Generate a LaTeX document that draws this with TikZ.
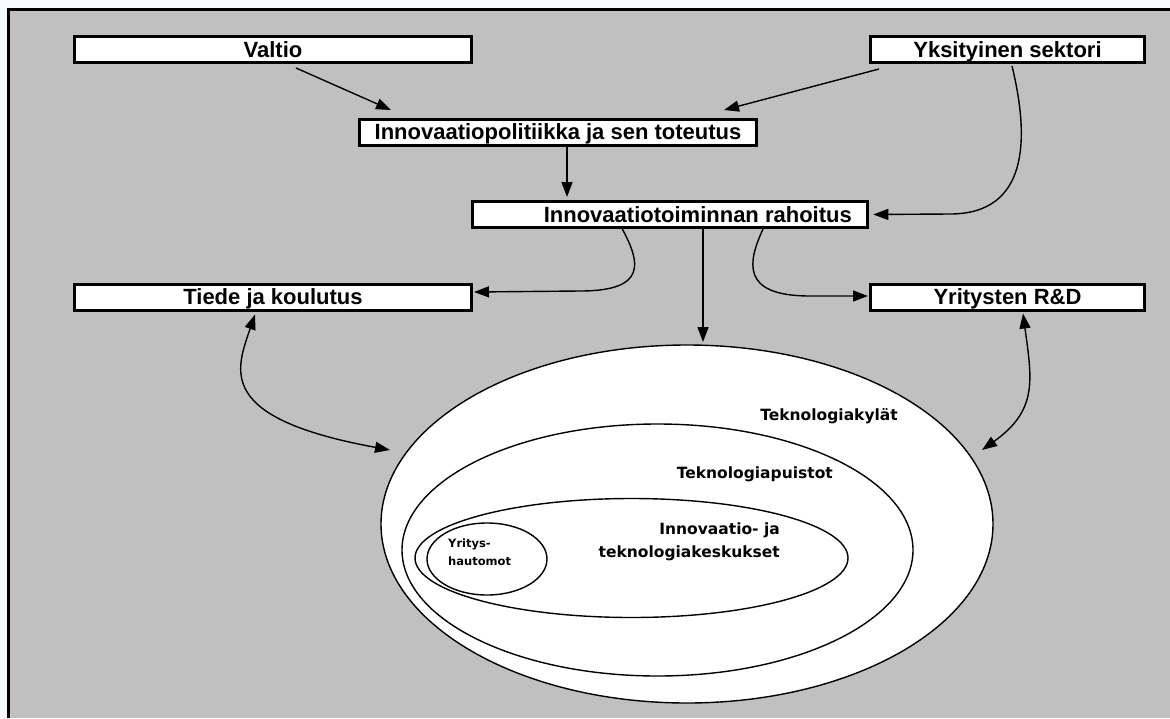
\documentclass[tikz,border=0pt]{standalone}
\usepackage{fontspec}
\setmainfont{Liberation Sans}
\newfontfamily\ellfont{DejaVu Sans}
\usetikzlibrary{arrows.meta,calc,shapes.geometric}
\definecolor{panel}{RGB}{192,192,192}
\definecolor{paper}{RGB}{246,250,254}

\begin{document}
\begin{tikzpicture}[x=1pt,y=-1pt,
  box/.style={draw,fill=white,line width=3pt,inner sep=0pt,minimum height=26pt,
    text height=15.8pt,text depth=0pt,
    font=\bfseries\fontsize{22}{26}\selectfont},
  ring/.style={draw,fill=white,ellipse,line width=1.4pt,inner sep=0pt,outer sep=0pt},
  ringtext/.style={inner sep=0pt,font=\ellfont\bfseries\fontsize{15.5}{22.5}\selectfont},
  link/.style={line width=1.4pt,-{Triangle[length=15pt,width=11pt]}},
  duplex/.style={line width=1.4pt,{Triangle[length=15pt,width=11pt]}-{Triangle[length=15pt,width=11pt]}}]

% page and grey panel with its frame
\useasboundingbox (0,0) rectangle (1170,718);
\fill[paper] (0,0) rectangle (1170,718);
\fill[panel] (8.5,9.5) rectangle (1170,718);
\draw[line width=3.4pt] (8.5,718) -- (8.5,9.5) -- (1170,9.5);

% actors and activities
\node[box,minimum width=397pt] (valtio) at (273,49.5) {Valtio};
\node[box,minimum width=274pt] (yksi) at (1007.5,49.5) {Yksityinen sektori};
\node[box,minimum width=397pt] (politik) at (558,132) {Innovaatiopolitiikka ja sen toteutus};
\node[box,minimum width=395pt] (rah) at (670.3,214.5) {\hspace*{55pt}Innovaatiotoiminnan rahoitus};
\node[box,minimum width=397pt] (tiede) at (273,297) {Tiede ja koulutus};
\node[box,minimum width=274pt] (rd) at (1007.5,297) {Yritysten R\&D};

% nested environments
\node[ring,minimum width=612pt,minimum height=358pt] (kylat) at (687,524) {};
\node[ring,minimum width=511pt,minimum height=252pt] (puistot) at (657.5,550) {};
\node[ring,minimum width=433pt,minimum height=119pt] (keskus) at (631.5,558) {};
\node[ring,minimum width=120pt,minimum height=72pt] (hautomo) at (487,559) {};

\node[ringtext,anchor=east] (kylattxt) at (898,416) {Teknologiakylät};
\node[ringtext,anchor=east] (puistotxt) at (833,474) {Teknologiapuistot};
\node[ringtext,anchor=east,align=right] (keskustxt) at (780,542) {Innovaatio- ja\\teknologiakeskukset};
\node[inner sep=0pt,anchor=west,align=left,font=\ellfont\bfseries\fontsize{11.5}{18}\selectfont]
  (hautomotxt) at (448,552) {Yritys-\\hautomot};

% flows
\draw[link] ($(valtio.south)+(23,4)$) -- ($(politik.north)+(-167,-7.5)$);
\draw[link] ($(yksi.south)+(-128.5,5)$) -- ($(politik.north)+(166,-7.5)$);
\draw[link] ($(yksi.south)+(4.5,2)$) .. controls (1030,140) and (1028,214) .. (950,214)
  -- ($(rah.east)+(4,0)$);
\draw[link] ($(politik.south)+(9,0)$) -- ($(rah.north)+(-103.3,-3)$);
\draw[link] ($(rah.south)+(-48,0)$) .. controls (640,262) and (648,291) .. (580,291)
  -- ($(tiede.east)+(1,-5)$);
\draw[link] ($(rah.south)+(92.7,0)$) .. controls (748,262) and (740,296) .. (810,296)
  -- ($(rd.west)+(-1,-1)$);
\draw[link] ($(rah.south)+(32.7,0)$) -- ($(kylat.north)+(16,-3)$);
\draw[duplex] ($(tiede.south)+(-18,3)$) .. controls (236,370) and (215,418) .. ($(kylat.center)+(-297,-74)$);
\draw[duplex] ($(rd.south)+(15.5,2)$) .. controls (1032,380) and (1038,410) .. ($(kylat.center)+(295,-74)$);
\end{tikzpicture}
\end{document}
